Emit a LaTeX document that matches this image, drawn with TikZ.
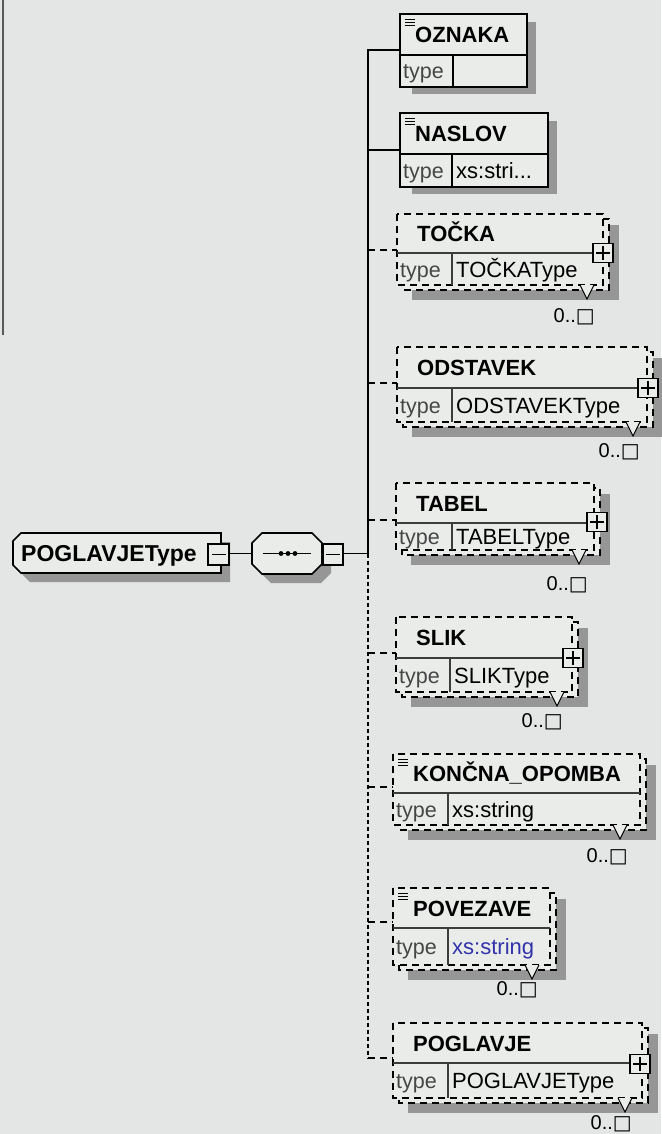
\documentclass[tikz,border=0pt]{standalone}
\usepackage{fontspec}
\setmainfont{Liberation Sans}
\newfontfamily\symfont{DejaVu Sans}
\usetikzlibrary{calc}
\definecolor{bg}{RGB}{227,230,228}
\definecolor{boxfill}{RGB}{234,236,234}
\definecolor{shadowc}{RGB}{150,150,150}
\definecolor{typeblue}{RGB}{50,50,170}
\definecolor{typegray}{RGB}{70,70,70}
\definecolor{divc}{RGB}{60,60,60}
\tikzset{
  boxline/.style={line width=1.6pt, draw=black},
  boxdash/.style={line width=1.5pt, draw=black, dash pattern=on 7pt off 5pt},
  divline/.style={line width=1.1pt, draw=divc},
  titletext/.style={inner sep=0pt, font=\fontsize{22pt}{24pt}\selectfont\bfseries},
  typelabel/.style={inner sep=0pt, text=typegray, font=\fontsize{21.5pt}{24pt}\selectfont},
  typetext/.style={inner sep=0pt, font=\fontsize{22pt}{24pt}\selectfont},
  multtext/.style={inner sep=0pt, font=\fontsize{20pt}{24pt}\selectfont},
  pmbox/.style={rectangle, draw=black, line width=1.3pt, fill=boxfill, minimum width=20pt, minimum height=19pt, inner sep=0pt},
  solidconn/.style={line width=1.6pt},
  dashconn/.style={line width=1.5pt, dash pattern=on 7pt off 5pt},
  dotconn/.style={line width=1.6pt, dash pattern=on 4pt off 3pt},
}
% required element: name, L, T, R, B, div, typediv, title, type
\newcommand\reqel[9]{%
  \fill[shadowc] (#2+12,#3+8) rectangle (#4+9,#5+7);
  \draw[boxline, fill=boxfill] (#2,#3) rectangle (#4,#5);
  \draw[boxline, line width=1.3pt] (#2,#6) -- (#4,#6);
  \draw[boxline, line width=1.3pt] (#7,#6) -- (#7,#5);
  \node[titletext, anchor=base west] (#1-title) at (#2+15,{(#3+#6)/2+8}) {#8};
  \node[typelabel, anchor=base west] (#1-type) at (#2+3,{(#6+#5)/2+8}) {type};
  \node[typetext, anchor=base west] (#1-val) at (#7+4,{(#6+#5)/2+8}) {#9};
}
% optional (0..n) element: name, L, T, R, B, div, typediv, title, type
\newcommand\optel[9]{%
  \fill[shadowc] (#2+15,#3+11) rectangle (#4+16,#5+15);
  \draw[boxdash, fill=boxfill] (#2+6,#3+5) rectangle (#4+6,#5+5);
  \draw[boxdash, fill=boxfill] (#2,#3) rectangle (#4,#5);
  \draw[divline] (#2,#6) -- (#4,#6);
  \draw[divline] (#7,#6) -- (#7,#5);
  \node[titletext, anchor=base west] (#1-title) at (#2+20,{(#3+#6)/2+8}) {#8};
  \node[typelabel, anchor=base west] (#1-type) at (#2+3,{(#6+#5)/2+8}) {type};
  \node[typetext, anchor=base west] (#1-val) at (#7+4,{(#6+#5)/2+8}) {#9};
}
% simple-content icon: L, T
\newcommand\sicon[2]{%
  \draw[line width=0.9pt] (#1+5,#2+5) -- +(10,0);
  \draw[line width=0.9pt] (#1+5,#2+8) -- +(10,0);
  \draw[line width=0.9pt] (#1+5,#2+11) -- +(10,0);
}
% multiplicity: name, vtip x, B, label right, label y
\newcommand\mult[5]{%
  \draw[line width=1pt, fill=boxfill] (#2-7,#3) -- (#2,#3+14) -- (#2+7,#3);
  \node[multtext, anchor=base east] (#1-mult) at (#4,#5+7.5) {0..{\symfont □}};
}
% plus box: name, x, y
\newcommand\plusb[3]{%
  \node[pmbox] (#1-plus) at (#2,#3) {};
  \draw[line width=1.2pt] (#1-plus.center) +(-7,0) -- +(7,0);
  \draw[line width=1.2pt] (#1-plus.center) +(0,-7) -- +(0,7);
}
\begin{document}
\begin{tikzpicture}[x=1pt,y=-1pt]
\useasboundingbox (0,0) rectangle (661,1134);
\fill[bg] (0,0) rectangle (661,1134);
\draw[line width=1.4pt, draw=black!65] (3,0) -- (3,335);

% ---------- elements ----------
\reqel{oz}{400}{14}{527}{87}{55}{453}{OZNAKA}{}
\sicon{400}{14}
\reqel{na}{400}{113}{548}{187}{154}{452}{NASLOV}{xs:stri...}
\sicon{400}{113}

\optel{to}{397}{214}{603}{285}{253}{452}{TOČKA}{TOČKAType}
\plusb{to}{603}{253}
\mult{to}{587}{285}{595}{315}

\optel{od}{397}{347}{647}{422}{388}{452}{ODSTAVEK}{ODSTAVEKType}
\plusb{od}{648}{388}
\mult{od}{633}{422}{640}{450}

\optel{ta}{396}{483}{594}{550}{523}{452}{TABEL}{TABELType}
\plusb{ta}{597}{522}
\mult{ta}{579}{550}{588}{583}

\optel{sl}{396}{617}{572}{692}{658}{450}{SLIK}{SLIKType}
\plusb{sl}{573}{658}
\mult{sl}{557}{692}{563}{720}

\optel{ko}{393}{754}{640}{825}{793}{448}{KONČNA\_OPOMBA}{xs:string}
\sicon{393}{754}
\mult{ko}{620}{825}{628}{855}

\optel{po}{393}{888}{550}{965}{928}{448}{POVEZAVE}{\textcolor{typeblue}{xs:string}}
\sicon{393}{888}
\mult{po}{532}{965}{538}{988}

\optel{pg}{393}{1023}{642}{1098}{1063}{448}{POGLAVJE}{POGLAVJEType}
\plusb{pg}{640}{1064}
\mult{pg}{625}{1098}{632}{1122}

% ---------- root type ----------
\fill[shadowc] (30,542) -- (230,542) -- (230,582) -- (30,582) -- (22,574) -- (22,550) -- cycle;
\draw[boxline, fill=boxfill] (21,533) -- (221,533) -- (221,573) -- (21,573) -- (13,565) -- (13,541) -- cycle;
\node[titletext, font=\fontsize{23pt}{24pt}\selectfont\bfseries, anchor=base west] (root) at (21,561.5) {POGLAVJEType};
\node[pmbox, minimum width=21pt, minimum height=21pt] (rootminus) at (218.5,554.5) {};
\draw[line width=1.2pt] (rootminus.center) +(-7,0) -- +(7,0);

% ---------- sequence compositor ----------
\fill[shadowc] (271,542) -- (321,542) -- (331,552) -- (331,573) -- (321,583) -- (271,583) -- (261,573) -- (261,552) -- cycle;
\draw[boxline, fill=boxfill] (262,533) -- (312,533) -- (322,543) -- (322,564) -- (312,574) -- (262,574) -- (252,564) -- (252,543) -- cycle;
\coordinate (seqin) at (252,553.5);
\draw[line width=1.2pt] (263,553.5) -- (311,553.5);
\foreach \dx in {281,288,295}{\fill (\dx,553.5) circle (2.4pt);}
\node[pmbox, minimum width=20pt, minimum height=21pt] (seqminus) at (333,554.5) {};
\draw[line width=1.2pt] (seqminus.center) +(-7,0) -- +(7,0);

% ---------- connectors ----------
\coordinate (to-in) at (397,250);
\coordinate (od-in) at (397,383);
\coordinate (ta-in) at (396,520);
\coordinate (sl-in) at (396,653);
\coordinate (ko-in) at (393,787);
\coordinate (po-in) at (393,922);
\coordinate (pg-in) at (393,1058);
\coordinate (oz-in) at (400,50);
\coordinate (na-in) at (400,150);
\coordinate (junction) at (368,553.5);

\draw[solidconn] (rootminus.east |- seqin) -- (seqin);
\draw[solidconn] (seqminus.east |- junction) -- (junction);
\draw[solidconn] (junction) -- (junction |- oz-in) -- (oz-in);
\draw[solidconn] (junction |- na-in) -- (na-in);
\draw[dotconn] (junction) -- (junction |- pg-in);
\foreach \n in {to,od,ta,sl,ko,po,pg}{
  \draw[dashconn] (junction |- \n-in) -- (\n-in);
}
\end{tikzpicture}
\end{document}
